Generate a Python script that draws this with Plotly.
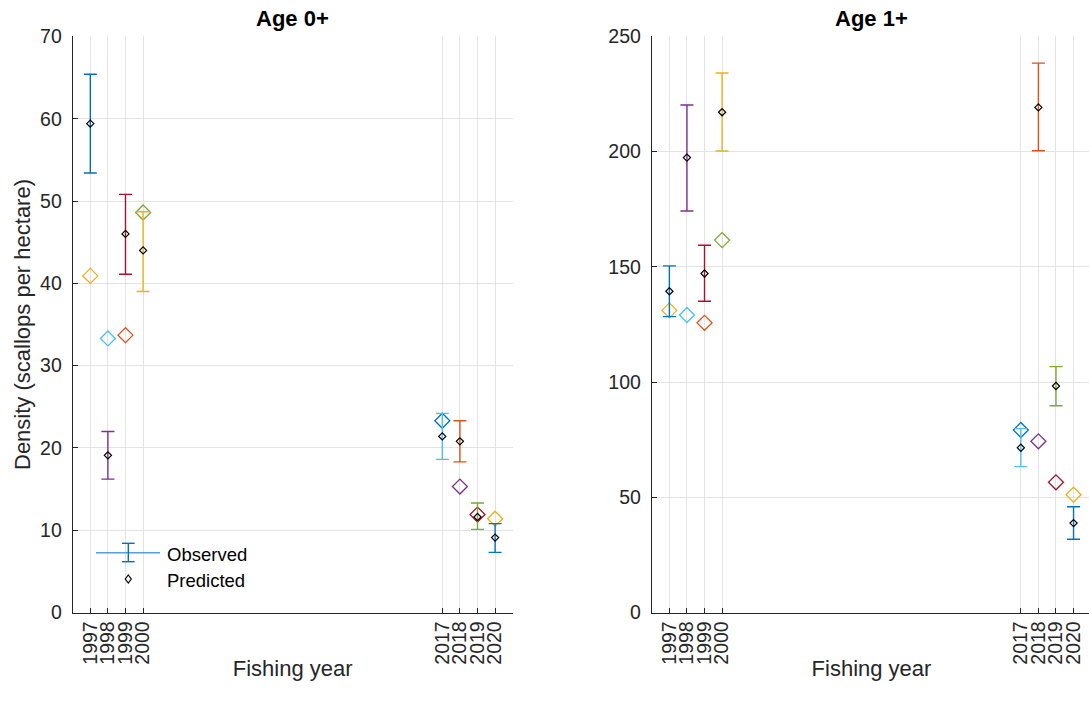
import plotly.graph_objects as go

# Survey years and scallop densities (scallops per hectare)
years = [1997, 1998, 1999, 2000, 2017, 2018, 2019, 2020]

age0_pred = [59.4, 19.1, 46.0, 44.0, 21.4, 20.8, 11.6, 9.1]
age0_lo = [53.4, 16.2, 41.1, 39.0, 18.6, 18.3, 10.1, 7.3]
age0_hi = [65.4, 22.0, 50.8, 48.7, 24.2, 23.3, 13.3, 10.8]
age0_obs = [40.9, 33.3, 33.7, 48.6, 23.3, 15.3, 11.9, 11.4]

age1_pred = [139.4, 197.4, 147.1, 217.1, 71.5, 219.2, 98.3, 38.8]
age1_lo = [128.4, 174.2, 135.1, 200.3, 63.3, 200.4, 89.7, 31.8]
age1_hi = [150.4, 220.2, 159.4, 234.1, 79.8, 238.4, 106.7, 45.9]
age1_obs = [131.1, 129.1, 125.7, 161.6, 79.2, 74.3, 56.5, 51.1]

age0_ticks = [0, 10, 20, 30, 40, 50, 60, 70]
age1_ticks = [0, 50, 100, 150, 200, 250]

# MATLAB-style colour order
BLUE, ORANGE, YELLOW, PURPLE = "#0072BD", "#D95319", "#EDB120", "#7E2F8E"
GREEN, CYAN, MAROON = "#77AC30", "#4DBEEE", "#A2142F"
bar_colors = [BLUE, PURPLE, MAROON, YELLOW, CYAN, ORANGE, GREEN, BLUE]
obs_colors = [YELLOW, CYAN, ORANGE, GREEN, BLUE, PURPLE, MAROON, YELLOW]

W, H = 1089, 704
FONT = "Liberation Sans, Arial, Helvetica, sans-serif"
AX = "#262626"
GRID = "#e3e3e3"


def px(x):
    return x / W


def py(y):
    return 1 - y / H


fig = go.Figure()

panels = [
    ("x", "y", age0_pred, age0_lo, age0_hi, age0_obs),
    ("x2", "y2", age1_pred, age1_lo, age1_hi, age1_obs),
]
for xa, ya, pred, lo, hi, obs in panels:
    for i, yr in enumerate(years):
        fig.add_trace(go.Scatter(
            x=[yr], y=[obs[i]], mode="markers", xaxis=xa, yaxis=ya,
            marker=dict(symbol="diamond-open", size=11.5, color=obs_colors[i],
                        line=dict(width=1.3, color=obs_colors[i])),
            showlegend=False, hoverinfo="skip"))
    for i, yr in enumerate(years):
        fig.add_trace(go.Scatter(
            x=[yr], y=[pred[i]], mode="markers", xaxis=xa, yaxis=ya,
            marker=dict(symbol="diamond-open", size=5.5, color="black",
                        line=dict(width=1.2, color="black")),
            error_y=dict(type="data", symmetric=False,
                         array=[hi[i] - pred[i]], arrayminus=[pred[i] - lo[i]],
                         color=bar_colors[i], thickness=1.4, width=6.5),
            showlegend=False, hoverinfo="skip"))

# x-axis labels, placed on a full-page pixel overlay
fig.add_trace(go.Scatter(
    x=[292.7, 871.5], y=[670, 670], mode="text", xaxis="x3", yaxis="y3",
    text=["Fishing year", "Fishing year"], textposition="middle center",
    textfont=dict(family=FONT, size=22, color=AX), cliponaxis=False,
    showlegend=False, hoverinfo="skip"))

tickfont = dict(family=FONT, size=19.5, color=AX)
x_common = dict(
    tickmode="array", tickvals=years, ticktext=[str(y) for y in years],
    tickangle=-90, ticks="inside", ticklen=5, tickcolor=AX, tickwidth=1,
    showline=True, linecolor=AX, linewidth=1, showgrid=True, gridcolor=GRID,
    gridwidth=1, zeroline=False, tickfont=tickfont, mirror=False,
    automargin=False,
)
y_common = dict(
    ticks="inside", ticklen=5, tickcolor=AX, tickwidth=1,
    showline=True, linecolor=AX, linewidth=1, showgrid=True, gridcolor=GRID,
    gridwidth=1, zeroline=False, tickfont=tickfont, ticklabelstandoff=6,
    automargin=False,
)

ydom = [py(612.5), py(36.4)]
fig.update_layout(
    width=W, height=H,
    margin=dict(l=0, r=0, t=0, b=0),
    paper_bgcolor="white", plot_bgcolor="rgba(0,0,0,0)",
    showlegend=False,
    xaxis=dict(domain=[px(72.7), px(512.7)], range=[1996, 2021],
               anchor="y", **x_common),
    yaxis=dict(domain=ydom, range=[0, 70], anchor="x",
               tickvals=age0_ticks, **y_common),
    xaxis2=dict(domain=[px(651.8), 1.0], range=[1996, 2020.88],
                anchor="y2", **x_common),
    yaxis2=dict(domain=ydom, range=[0, 250], anchor="x2",
                tickvals=age1_ticks, **y_common),
    xaxis3=dict(domain=[0, 1], range=[0, W], visible=False, anchor="y3",
                fixedrange=True),
    yaxis3=dict(domain=[0, 1], range=[H, 0], visible=False, anchor="x3",
                fixedrange=True),
)

# Panel titles and the shared y label
ann = []
for cx, title in [(292.7, "<b>Age 0+</b>"), (871.5, "<b>Age 1+</b>")]:
    ann.append(dict(x=px(cx), y=py(19), xref="paper", yref="paper",
                    text=title, showarrow=False, xanchor="center",
                    yanchor="middle", font=dict(family=FONT, size=22, color="black")))
ann.append(dict(x=px(22.5), y=py(324.5), xref="paper", yref="paper",
                text="Density (scallops per hectare)", showarrow=False,
                textangle=-90, xanchor="center", yanchor="middle",
                font=dict(family=FONT, size=22, color=AX)))

# Legend
legfont = dict(family=FONT, size=18.5, color="black")
ann.append(dict(x=px(165), y=py(554), xref="paper", yref="paper",
                text="Observed", showarrow=False, xanchor="left",
                yanchor="middle", font=legfont))
ann.append(dict(x=px(165), y=py(580.5), xref="paper", yref="paper",
                text="Predicted", showarrow=False, xanchor="left",
                yanchor="middle", font=legfont))
fig.update_layout(annotations=ann)

shapes = []
def seg(x0, y0, x1, y1, color, w=1.4):
    shapes.append(dict(type="line", xref="paper", yref="paper",
                       x0=px(x0), y0=py(y0), x1=px(x1), y1=py(y1),
                       line=dict(color=color, width=w)))

seg(96, 552.7, 160, 552.7, "#5a9fd4")
seg(128.3, 543.3, 128.3, 561.7, BLUE)
seg(122, 543.3, 134.6, 543.3, BLUE)
seg(122, 561.7, 134.6, 561.7, BLUE)
cx, cy = 128.3, 579
shapes.append(dict(
    type="path", xref="paper", yref="paper",
    path=(f"M {px(cx)} {py(cy - 4)} L {px(cx + 3)} {py(cy)} "
          f"L {px(cx)} {py(cy + 4)} L {px(cx - 3)} {py(cy)} Z"),
    line=dict(color="black", width=1.2)))
fig.update_layout(shapes=shapes)

fig.write_html("out.html")
